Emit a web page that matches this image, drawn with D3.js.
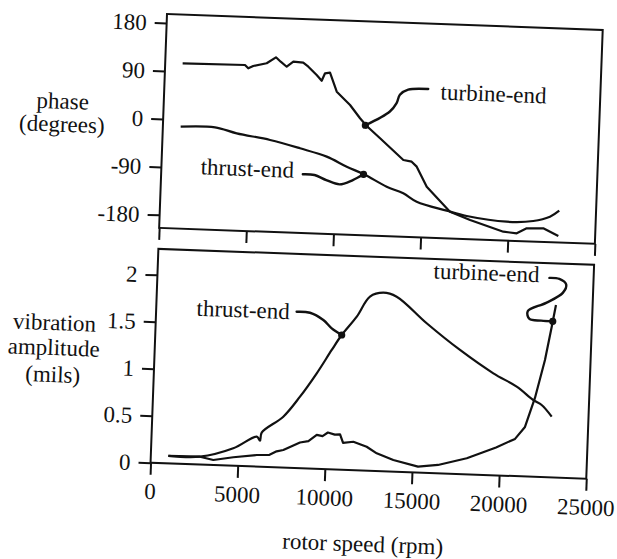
<!DOCTYPE html>
<html>
<head>
<meta charset="utf-8">
<script src="https://cdn.jsdelivr.net/npm/d3@7"></script>
<style>
  body { margin: 0; background: #fff; }
</style>
</head>
<body>
<script>
// ---- data ----
var rpmTicks = [0, 5000, 10000, 15000, 20000, 25000];
var phaseTicks = [180, 90, 0, -90, -180];
var ampTicks = [0, 0.5, 1, 1.5, 2];

// phase, turbine-end
var phaseTurbineRpm = [1000, 4575, 4770, 5050, 5815, 6335, 6615, 6970, 7340, 7910, 8210, 8705, 9005, 9180, 9465, 9890, 10680, 11280, 11680, 12470, 13850, 14330, 14630, 15245, 16630, 17800, 19730, 20500, 21060, 22010, 22890];
var phaseTurbine = [105.6, 106.7, 100.7, 105.4, 111.4, 123.2, 115.3, 106.3, 116.2, 115, 107.8, 92.8, 82.5, 96.6, 98.1, 63, 39, 14.8, 0.8, -21.4, -60.4, -63, -72, -108.8, -154.1, -168.2, -187.9, -190, -180, -178.7, -192.2];

// phase, thrust-end
var phaseThrustRpm = [1020, 2990, 4245, 6170, 7905, 9450, 10620, 11625, 12950, 13915, 14700, 16440, 17600, 19900, 21420, 22370, 22890];
var phaseThrust = [-13.3, -12.2, -21.9, -32.1, -45.6, -59.4, -76.9, -90, -111.6, -122.8, -137.6, -152.4, -161, -169, -165.8, -156.6, -144.7];

// amplitude, thrust-end
var ampThrustRpm = [1005, 2820, 4710, 6030, 6225, 6305, 7510, 8425, 9335, 10145, 10685, 11510, 12225, 12980, 13755, 15530, 17495, 19455, 20820, 21800, 22290, 22890];
var ampThrust = [0.079, 0.083, 0.185, 0.318, 0.277, 0.363, 0.541, 0.76, 1.015, 1.269, 1.432, 1.633, 1.851, 1.898, 1.861, 1.59, 1.319, 1.084, 0.951, 0.816, 0.766, 0.646];

// amplitude, turbine-end
var ampTurbineRpm = [1005, 2820, 3590, 4730, 6065, 6800, 7200, 7580, 8520, 9000, 9465, 9800, 10100, 10500, 10800, 10990, 11575, 12350, 12940, 13905, 15335, 16475, 18110, 19765, 20835, 21380, 21890, 22385, 22700, 22900];
var ampTurbine = [0.079, 0.083, 0.053, 0.09, 0.123, 0.13, 0.17, 0.187, 0.273, 0.29, 0.36, 0.35, 0.39, 0.37, 0.376, 0.285, 0.302, 0.254, 0.188, 0.123, 0.062, 0.088, 0.17, 0.297, 0.395, 0.526, 0.838, 1.246, 1.6, 1.835];

// ---- layout ----
var W = 436, H = 214, lowerTop = 235;
var serif = "'Liberation Serif', 'DejaVu Serif', 'Times New Roman', Times, serif";

var svg = d3.select("body").append("svg")
	.attr("width", 617)
	.attr("height", 559)
	.style("font-family", serif)
	.style("font-size", "23px");

// the scan is tilted a couple of degrees
var g = svg.append("g")
	.attr("transform", "translate(167,14) rotate(2.1)");

var x = d3.scaleLinear().domain([0, 25000]).range([0, W]);
var yPhase = d3.scaleLinear().domain([180, -180]).range([9, 201]);
var yAmp = d3.scaleLinear().domain([0, 2]).range([H, 26]);

function zip(a, b) {
	return a.map(function(v, i) { return [v, b[i]]; });
}

function plain(d) { return String(d); }   // keeps "-180" with a hyphen like the scan

function styleAxis(sel) {
	sel.select(".domain").remove();
	sel.selectAll("line").attr("stroke", "#111").attr("stroke-width", 2);
	sel.selectAll("text").attr("fill", "#111");
	sel.attr("font-family", serif).attr("font-size", 23);
}

function label(sel, px, py, str, anchor) {
	return sel.append("text")
		.attr("x", px).attr("y", py)
		.attr("text-anchor", anchor || "start")
		.attr("fill", "#111")
		.style("font-family", serif)
		.style("font-size", "23px")
		.text(str);
}

// ---- top panel: phase ----
var phasePanel = g.append("g");

phasePanel.append("g")
	.call(d3.axisLeft(yPhase).tickValues(phaseTicks).tickSize(12).tickPadding(8).tickFormat(plain))
	.call(styleAxis);

phasePanel.append("g")
	.attr("transform", "translate(0," + H + ")")
	.call(d3.axisBottom(x).tickValues(rpmTicks).tickSize(12).tickFormat(""))
	.call(styleAxis);

phasePanel.append("rect")
	.attr("width", W).attr("height", H)
	.attr("fill", "none").attr("stroke", "#111").attr("stroke-width", 2);

var linePhase = d3.line()
	.x(function(d) { return x(d[0]); })
	.y(function(d) { return yPhase(d[1]); });

phasePanel.append("path")
	.attr("d", linePhase(zip(phaseTurbineRpm, phaseTurbine)))
	.attr("fill", "none").attr("stroke", "#111").attr("stroke-width", 2.2)
	.attr("stroke-linejoin", "round");

phasePanel.append("path")
	.attr("d", linePhase.curve(d3.curveCatmullRom.alpha(0.5))(zip(phaseThrustRpm, phaseThrust)))
	.attr("fill", "none").attr("stroke", "#111").attr("stroke-width", 2.2);

label(phasePanel, -101, 98.5, "phase", "middle");
label(phasePanel, -101, 121.5, "(degrees)", "middle");

// ---- bottom panel: amplitude ----
var ampPanel = g.append("g").attr("transform", "translate(0," + lowerTop + ")");

ampPanel.append("g")
	.call(d3.axisLeft(yAmp).tickValues(ampTicks).tickSize(12).tickPadding(8).tickFormat(plain))
	.call(styleAxis);

ampPanel.append("g")
	.attr("transform", "translate(0," + H + ")")
	.call(d3.axisBottom(x).tickValues(rpmTicks).tickSize(12).tickPadding(8).tickFormat(plain))
	.call(styleAxis);

ampPanel.append("rect")
	.attr("width", W).attr("height", H)
	.attr("fill", "none").attr("stroke", "#111").attr("stroke-width", 2);

var lineAmp = d3.line()
	.x(function(d) { return x(d[0]); })
	.y(function(d) { return yAmp(d[1]); });

ampPanel.append("path")
	.attr("d", lineAmp(zip(ampTurbineRpm, ampTurbine)))
	.attr("fill", "none").attr("stroke", "#111").attr("stroke-width", 2.2)
	.attr("stroke-linejoin", "round");

ampPanel.append("path")
	.attr("d", lineAmp.curve(d3.curveCatmullRom.alpha(0.5))(zip(ampThrustRpm, ampThrust)))
	.attr("fill", "none").attr("stroke", "#111").attr("stroke-width", 2.2);

label(ampPanel, -101, 85, "vibration", "middle");
label(ampPanel, -101, 110, "amplitude", "middle");
label(ampPanel, -101, 137, "(mils)", "middle");

label(ampPanel, 215, 295, "rotor speed (rpm)", "middle");

// ---- hand-drawn callouts: dot on the curve, leader as pixel offsets ----
var callouts = [
	{ panel: phasePanel, y: yPhase, rpm: 11600, v: 2, label: "turbine-end", tx: 74, ty: -28.5,
		leader: [[0, 0], [24, -14.7], [30.4, -23.3], [33.4, -31.8], [41.5, -37.1], [61.5, -38.5]] },
	{ panel: phasePanel, y: yPhase, rpm: 11600, v: -90, label: "thrust-end", tx: -163, ty: 6,
		leader: [[-60.7, 2.2], [-49, 2.5], [-37.1, 7.1], [-23.6, 10.9], [-10.5, 6.1], [0, 0]] },
	{ panel: ampPanel, y: yAmp, rpm: 10685, v: 1.432, label: "thrust-end", tx: -146, ty: -14,
		leader: [[-45.9, -21.6], [-32.5, -21.1], [-18.9, -14.3], [-10.2, -6.3], [0, 0]] },
	{ panel: ampPanel, y: yAmp, rpm: 22750, v: 1.66, label: "turbine-end", tx: -121, ty: -38.5,
		leader: [[-4.9, -43.3], [5.1, -42.6], [12.1, -37.2], [9, -28.8], [-7.3, -18.2], [-25.4, -9.1], [-23.4, -1.5], [-11.6, -0.3], [0, 0]] }
];

var leaderLine = d3.line().curve(d3.curveCatmullRom.alpha(0.5));

callouts.forEach(function(c) {
	var cx = x(c.rpm), cy = c.y(c.v);
	var grp = c.panel.append("g").attr("transform", "translate(" + cx + "," + cy + ")");
	grp.append("path")
		.attr("d", leaderLine(c.leader))
		.attr("fill", "none").attr("stroke", "#111").attr("stroke-width", 2.4)
		.attr("stroke-linecap", "round");
	grp.append("circle").attr("r", 3.6).attr("fill", "#111");
	label(grp, c.tx, c.ty, c.label);
});
</script>
</body>
</html>
